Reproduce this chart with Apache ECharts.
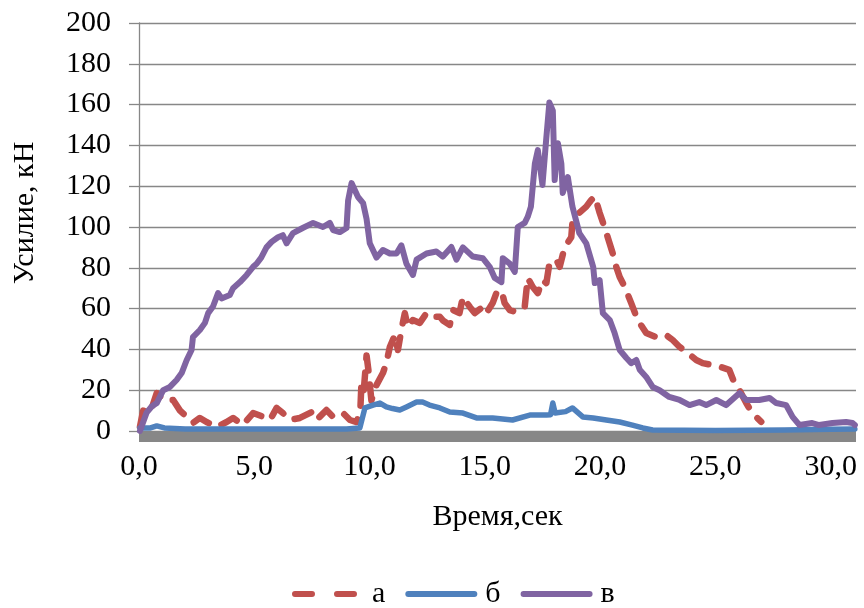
<!DOCTYPE html>
<html>
<head>
<meta charset="utf-8">
<script src="https://cdn.jsdelivr.net/npm/echarts@6/dist/echarts.min.js"></script>
<style>
  html, body { margin: 0; padding: 0; background: #fff; }
  #chart { width: 864px; height: 608px; }
</style>
</head>
<body>
<div id="chart"></div>
<script>
// Force (kN) versus time (s) for three loading cases
const seriesNames = ['а', 'б', 'в'];

const timeA = [0.04, 0.18, 0.48, 0.77, 1.05, 1.48, 1.78, 2.07, 2.34, 2.64, 2.93, 3.37, 3.8, 4.08, 4.5, 4.95, 5.4, 5.68, 5.97, 6.24, 6.55, 6.98, 7.49, 7.7, 8.13, 8.42, 8.85, 9.15, 9.44, 9.6, 9.65, 9.75, 9.87, 9.95, 10.08, 10.3, 10.58, 10.73, 10.88, 11.1, 11.23, 11.38, 11.53, 11.66, 11.88, 12.18, 12.47, 12.68, 13.05, 13.2, 13.48, 13.62, 13.9, 14.05, 14.35, 14.56, 14.91, 15.07, 15.34, 15.5, 15.72, 15.86, 16.08, 16.37, 16.73, 16.86, 17.08, 17.3, 17.5, 17.67, 17.8, 18.1, 18.25, 18.46, 18.75, 18.8, 19.1, 19.4, 19.6, 19.77, 19.98, 20.1, 20.33, 20.55, 20.7, 20.85, 21.07, 21.35, 21.63, 22.0, 22.44, 22.87, 23.15, 23.45, 23.8, 24.17, 24.45, 24.82, 25.2, 25.6, 25.83, 26.05, 26.34, 26.6, 26.99];
const forceA = [2, 10, 8.8, 18.6, 15.2, 15.2, 10, 6.9, 3.9, 6.4, 4.4, 2, 4.4, 6.4, 2.9, 8.8, 6.9, 5.4, 11.3, 8.8, 5.4, 6.4, 9.3, 5.4, 10.3, 6.9, 8.8, 5.4, 4.4, 10, 24, 20, 37, 30, 15, 22.5, 28.4, 33.3, 41.2, 47, 39.7, 49.5, 57.8, 51, 54.4, 53, 57.8, 56, 56, 54, 52, 59.3, 57.8, 65.7, 60.8, 57.8, 60.8, 57.8, 62.7, 67.6, 69, 62.7, 59.3, 58.3, 60.8, 75, 70.6, 67.6, 74, 72.5, 82, 84, 80.5, 90, 95, 102, 107, 110, 113, 115, 107, 103, 95, 87, 80.5, 75.5, 70.6, 62.7, 54.4, 48, 46, 47, 44.6, 41.2, 38.2, 34.8, 33.3, 32.4, 31.5, 30, 23.5, 20, 13.7, 8.8, 4.5];

const timeB = [0.04, 0.5, 0.77, 1.1, 2, 3, 5, 7, 9.0, 9.58, 9.8, 10.15, 10.45, 10.73, 11.0, 11.31, 11.6, 12.04, 12.3, 12.6, 13.05, 13.48, 14.05, 14.64, 15.34, 16.2, 16.95, 17.67, 17.85, 17.95, 18.05, 18.5, 18.8, 19.25, 19.7, 20.27, 20.85, 21.4, 21.85, 22.28, 25, 28, 30, 31.05];
const forceB = [1.5, 1.5, 2.5, 1.5, 1, 1, 1, 1, 1, 1.5, 11.3, 12.7, 13.7, 11.8, 11, 10.3, 11.8, 14.2, 14.2, 12.7, 11.3, 9.3, 8.8, 6.4, 6.4, 5.4, 7.8, 7.8, 8, 13.7, 8.8, 9.5, 11.3, 6.9, 6.4, 5.4, 4.4, 2.9, 1.5, 0.5, 0.3, 0.5, 0.8, 1];

const timeV = [0.04, 0.33, 0.55, 0.77, 1.05, 1.34, 1.63, 1.85, 2.07, 2.28, 2.34, 2.64, 2.86, 3.0, 3.21, 3.43, 3.58, 3.94, 4.08, 4.38, 4.67, 4.95, 5.1, 5.3, 5.53, 5.75, 6.03, 6.24, 6.4, 6.68, 7.1, 7.55, 7.98, 8.28, 8.42, 8.71, 9.0, 9.07, 9.22, 9.5, 9.72, 9.87, 10.01, 10.3, 10.58, 10.88, 11.17, 11.38, 11.6, 11.88, 12.04, 12.47, 12.9, 13.18, 13.55, 13.77, 14.05, 14.48, 14.91, 15.21, 15.43, 15.72, 15.78, 16.08, 16.3, 16.43, 16.73, 16.86, 17.0, 17.17, 17.3, 17.5, 17.67, 17.8, 17.95, 18.03, 18.17, 18.32, 18.38, 18.6, 18.8, 19.1, 19.4, 19.7, 19.77, 19.98, 20.12, 20.42, 20.63, 20.85, 21.14, 21.35, 21.57, 21.72, 22.0, 22.28, 22.58, 23.0, 23.45, 23.88, 24.3, 24.6, 25.04, 25.47, 26.05, 26.34, 26.9, 27.35, 27.64, 28.07, 28.35, 28.65, 29.2, 29.5, 30.08, 30.67, 30.95, 31.05];
const forceV = [0, 9, 12, 13.7, 20, 21.6, 25, 28.4, 34.8, 39.7, 46, 49.5, 53, 57.8, 61, 67.6, 65, 66.7, 70, 73, 76.5, 80.5, 82, 85, 90, 92.7, 95, 96, 92, 97, 99.5, 102, 100, 102, 98.5, 97.5, 99.5, 113, 121.5, 114.7, 111.7, 104, 92, 85, 88.7, 87, 87, 91, 82, 76.5, 84, 87, 88, 85.5, 90.2, 84, 90, 85.5, 84.7, 80.5, 75, 73, 84.7, 82, 78, 100, 102, 105, 110, 131, 137.7, 120.6, 144, 161, 157, 123, 141, 131, 116.7, 124.5, 110, 97, 92, 80.5, 72.5, 74, 57.8, 54.4, 48, 39.7, 35.8, 33.3, 34.8, 30, 26.5, 21.6, 20, 16.7, 15.2, 12.7, 14.2, 12.7, 15.2, 12.7, 18.6, 15.2, 15.2, 16.2, 13.7, 12.7, 6.9, 2.9, 3.9, 2.9, 3.9, 4.4, 3.9, 2.9];

const xTickStep = 5;
const yTickStep = 20;

const zip = (t, v) => t.map((x, i) => [x, v[i]]);

const serif = 'Liberation Serif, Times New Roman, serif';
const gridGrey = '#878787';
const colors = ['#C0504D', '#4F81BD', '#8064A2'];

const chart = echarts.init(document.getElementById('chart'), null, { renderer: 'canvas' });

chart.setOption({
  animation: false,
  backgroundColor: '#ffffff',
  grid: { left: 139, right: 8, top: 23, bottom: 177, containLabel: false },
  xAxis: {
    type: 'value',
    min: 0,
    max: 31.1,
    interval: xTickStep,
    offset: 5,
    name: 'Время,сек',
    nameLocation: 'middle',
    nameGap: 66,
    nameTextStyle: { fontFamily: serif, fontSize: 30, color: '#000' },
    axisLine: { show: true, onZero: false, lineStyle: { color: gridGrey, width: 11, cap: 'butt' } },
    axisTick: { show: false },
    splitLine: { show: false },
    axisLabel: {
      fontFamily: serif, fontSize: 30, color: '#000', margin: 16,
      showMaxLabel: false,
      formatter: v => v.toFixed(1).replace('.', ',')
    }
  },
  yAxis: {
    type: 'value',
    min: 0,
    max: 200,
    interval: yTickStep,
    axisLine: { show: true, lineStyle: { color: gridGrey, width: 1.3 } },
    axisTick: { show: true, length: 10, lineStyle: { color: gridGrey, width: 1.3 } },
    splitLine: { show: true, lineStyle: { color: gridGrey, width: 1.3 } },
    axisLabel: { fontFamily: serif, fontSize: 30, color: '#000', margin: 28 }
  },
  legend: {
    left: 287,
    top: 574,
    itemWidth: 66,
    itemHeight: 30,
    itemGap: 20,
    itemStyle: { opacity: 0 },
    textStyle: { fontFamily: serif, fontSize: 30, color: '#000', padding: [0, 0, 0, 6] },
    lineStyle: { width: 6, cap: 'round' },
    data: [
      { name: 'а', lineStyle: { type: [17, 25], width: 6, cap: 'round' } },
      { name: 'б' },
      { name: 'в' }
    ]
  },
  graphic: [{
    type: 'text',
    x: 25,
    y: 213,
    rotation: Math.PI / 2,
    style: {
      text: 'Усилие, кН',
      font: '30px ' + serif,
      fill: '#000',
      align: 'center',
      verticalAlign: 'middle'
    }
  }],
  series: [
    {
      name: seriesNames[0], type: 'line', data: zip(timeA, forceA),
      symbol: 'none', color: colors[0],
      lineStyle: { width: 6.5, type: [18, 14], cap: 'round', join: 'round' }
    },
    {
      name: seriesNames[1], type: 'line', data: zip(timeB, forceB),
      symbol: 'none', color: colors[1],
      lineStyle: { width: 5.5, cap: 'round', join: 'round' }
    },
    {
      name: seriesNames[2], type: 'line', data: zip(timeV, forceV),
      symbol: 'none', color: colors[2],
      lineStyle: { width: 6, cap: 'round', join: 'round' }
    }
  ]
});
</script>
</body>
</html>
